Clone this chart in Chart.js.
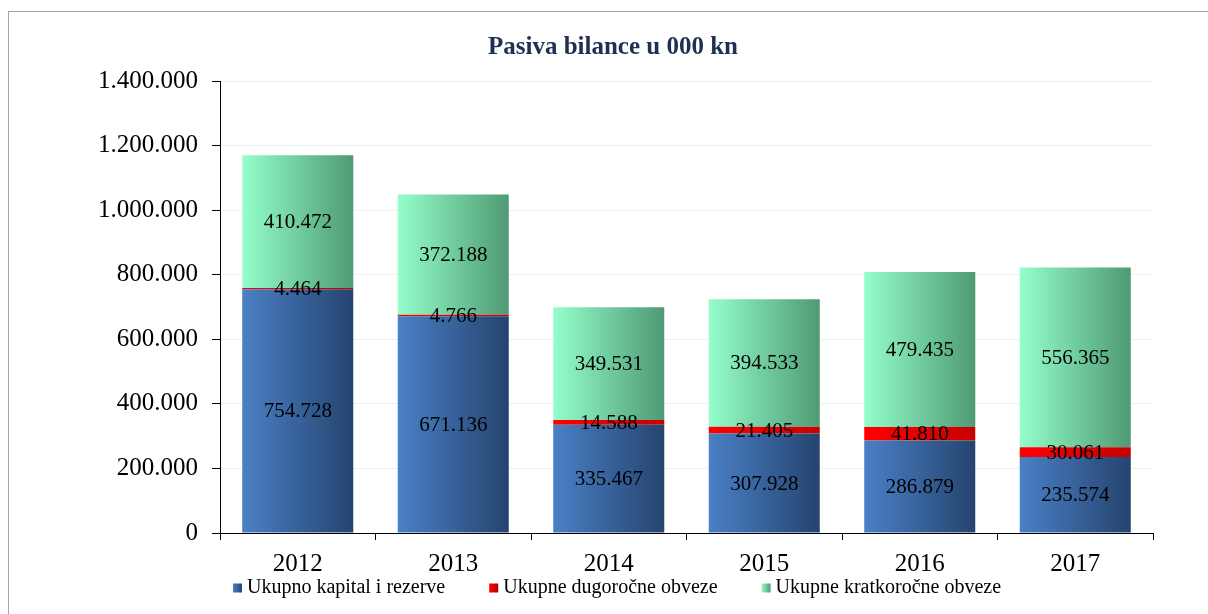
<!DOCTYPE html>
<html>
<head>
<meta charset="utf-8">
<script src="https://cdn.jsdelivr.net/npm/chart.js@4"></script>
<style>
  html, body { margin: 0; padding: 0; background: #fff; }
  #frame { position: absolute; left: 8px; top: 11px; width: 1230px; height: 640px; border: 1px solid #a6a6a6; }
  #wrap { position: absolute; left: 0; top: 0; width: 1208px; height: 614px; }
</style>
</head>
<body>
<div id="frame"></div>
<div id="wrap"><canvas id="pasiva" width="1208" height="614"></canvas></div>
<script>
// Data
const years = ['2012', '2013', '2014', '2015', '2016', '2017'];
const kapital = [754728, 671136, 335467, 307928, 286879, 235574];
const dugorocne = [4464, 4766, 14588, 21405, 41810, 30061];
const kratkorocne = [410472, 372188, 349531, 394533, 479435, 556365];
const seriesNames = ['Ukupno kapital i rezerve', 'Ukupne dugoročne obveze', 'Ukupne kratkoročne obveze'];
const chartTitle = 'Pasiva bilance u 000 kn';

const serif = '"Liberation Serif", "Times New Roman", serif';
const barPct = 0.714;

function fmt(n) {
  return String(n).replace(/\B(?=(\d{3})+(?!\d))/g, '.');
}

// horizontal gradient across each bar
function barGradient(left, right, fallback) {
  return function(context) {
    const chart = context.chart;
    const xs = chart.scales.x;
    if (!chart.chartArea || !xs || context.dataIndex === undefined) return fallback;
    const cx = xs.getPixelForValue(context.dataIndex);
    const half = (chart.chartArea.width / years.length) * barPct / 2;
    const g = chart.ctx.createLinearGradient(cx - half, 0, cx + half, 0);
    g.addColorStop(0, left);
    g.addColorStop(1, right);
    return g;
  };
}

// value labels centred in each segment
const segmentLabels = {
  id: 'segmentLabels',
  afterDatasetsDraw(chart) {
    const ctx = chart.ctx;
    ctx.save();
    ctx.font = '21px ' + serif;
    ctx.fillStyle = '#000';
    ctx.textAlign = 'center';
    ctx.textBaseline = 'middle';
    chart.data.datasets.forEach((ds, i) => {
      const meta = chart.getDatasetMeta(i);
      meta.data.forEach((bar, j) => {
        const y = (bar.y + bar.base) / 2 + 1;
        ctx.fillText(fmt(ds.data[j]), bar.x, y);
      });
    });
    ctx.restore();
  }
};

// title and legend drawn by hand so spacing matches
const titleAndLegend = {
  id: 'titleAndLegend',
  afterDraw(chart) {
    const ctx = chart.ctx;
    ctx.save();
    ctx.font = 'bold 25px ' + serif;
    ctx.fillStyle = '#1f3050';
    ctx.textAlign = 'center';
    ctx.textBaseline = 'middle';
    ctx.fillText(chartTitle, 613, 48);

    ctx.font = '20px ' + serif;
    ctx.textAlign = 'left';
    const box = 9, gapText = 5, gapItem = 44;
    const widths = seriesNames.map(t => ctx.measureText(t).width);
    const total = widths.reduce((a, w) => a + box + gapText + w, 0) + gapItem * (seriesNames.length - 1);
    let x = 617 - total / 2;
    const y = 588;
    chart.data.datasets.forEach((ds, i) => {
      const g = ctx.createLinearGradient(x, 0, x + box, 0);
      g.addColorStop(0, ds.legendColors[0]);
      g.addColorStop(1, ds.legendColors[1]);
      ctx.fillStyle = g;
      ctx.fillRect(x, y - box / 2, box, box);
      ctx.fillStyle = '#000';
      ctx.fillText(ds.label, x + box + gapText, y);
      x += box + gapText + widths[i] + gapItem;
    });
    ctx.restore();
  }
};

const ctx = document.getElementById('pasiva').getContext('2d');
const chart = new Chart(ctx, {
  type: 'bar',
  data: {
    labels: years,
    datasets: [
      {
        label: seriesNames[0],
        data: kapital,
        backgroundColor: barGradient('#4a80c6', '#25446f', '#3a64a0'),
        legendColors: ['#4a80c6', '#25446f']
      },
      {
        label: seriesNames[1],
        data: dugorocne,
        backgroundColor: barGradient('#ff0000', '#c80000', '#e60000'),
        legendColors: ['#ff0000', '#b00000']
      },
      {
        label: seriesNames[2],
        data: kratkorocne,
        backgroundColor: barGradient('#94fecb', '#4f9a74', '#74d0a2'),
        legendColors: ['#94fecb', '#4f9a74']
      }
    ]
  },
  options: {
    responsive: false,
    animation: false,
    layout: { padding: { left: 0, right: 55, top: 81, bottom: 26 } },
    datasets: {
      bar: { barPercentage: barPct, categoryPercentage: 1, borderWidth: 0 }
    },
    plugins: {
      title: { display: false },
      legend: { display: false },
      tooltip: { enabled: false }
    },
    scales: {
      x: {
        stacked: true,
        grid: { drawOnChartArea: false, tickColor: '#000', tickLength: 7, offset: true },
        border: { color: '#000', width: 1 },
        ticks: {
          color: '#000',
          padding: 9,
          font: { family: serif, size: 25 }
        }
      },
      y: {
        stacked: true,
        min: 0,
        max: 1400000,
        afterFit(scale) { scale.width = 220; },
        grid: { color: '#efefef', tickColor: '#000', tickLength: 8 },
        border: { color: '#000', width: 1 },
        ticks: {
          stepSize: 200000,
          color: '#000',
          padding: 14,
          font: { family: serif, size: 25 },
          callback: (v) => fmt(v)
        }
      }
    }
  },
  plugins: [segmentLabels, titleAndLegend]
});
</script>
</body>
</html>
